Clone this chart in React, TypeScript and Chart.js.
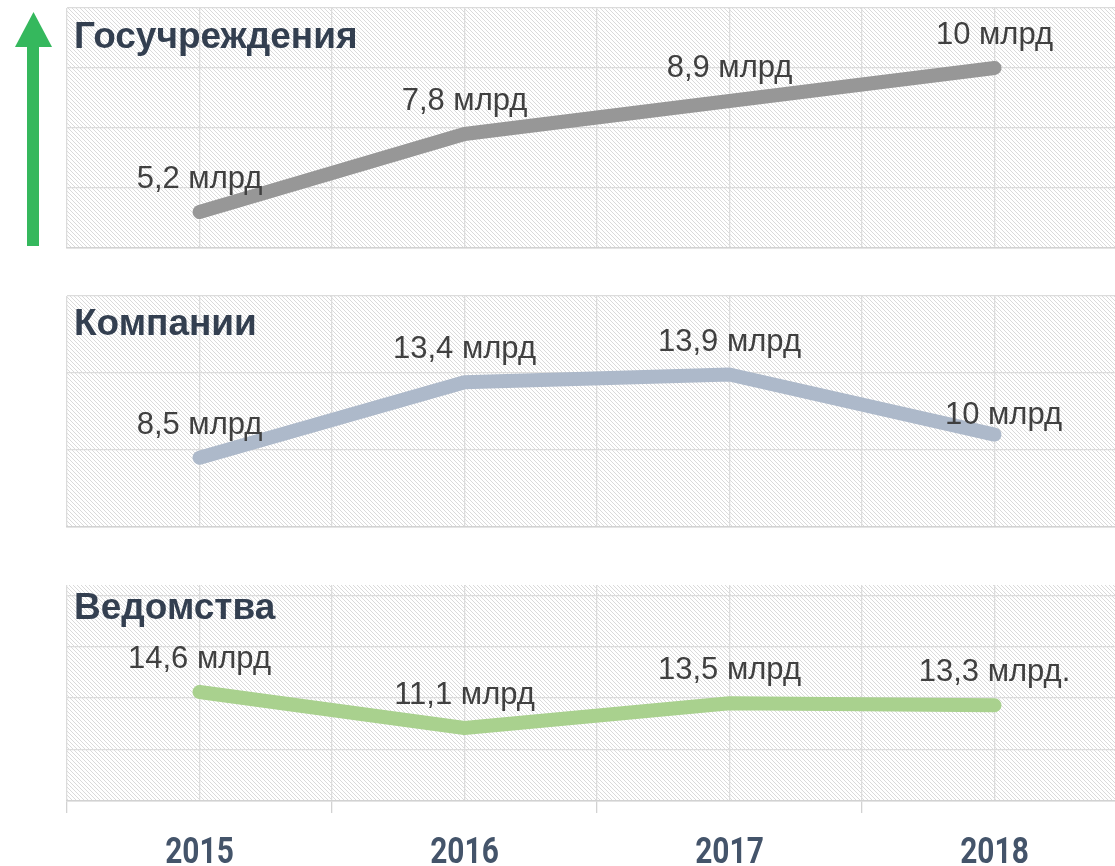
import React, { useEffect, useRef } from 'react';
import { Chart, registerables } from 'chart.js';

Chart.register(...registerables);

// ---- data ----
const years = ['2015', '2016', '2017', '2018'];

const govTitle = 'Госучреждения';
const govValues = [5.2, 7.8, 8.9, 10];
const govLabels = ['5,2 млрд', '7,8 млрд', '8,9 млрд', '10 млрд'];
const govTicks = [4, 6, 8, 10, 12];

const compTitle = 'Компании';
const compValues = [8.5, 13.4, 13.9, 10];
const compLabels = ['8,5 млрд', '13,4 млрд', '13,9 млрд', '10 млрд'];
const compTicks = [4, 9, 14, 19];

const agencyTitle = 'Ведомства';
const agencyValues = [14.6, 11.1, 13.5, 13.3];
const agencyLabels = ['14,6 млрд', '11,1 млрд', '13,5 млрд', '13,3 млрд.'];
const agencyTicks = [4, 9, 14, 19, 24];

const xGridTicks = [-0.5, 0, 0.5, 1, 1.5, 2, 2.5, 3, 3.5];

// ---- styles ----
const TITLE_COLOR = '#333f50';
const YEAR_COLOR = '#44546a';
const LABEL_COLOR = '#404040';
const GRID_COLOR = '#dcdcdc';
const BORDER_COLOR = '#d2d2d2';
const HATCH_COLOR = '#dadada';
const ARROW_COLOR = '#35b85d';
const CANVAS_W = 1140;

type PanelCfg = {
  title: string;
  values: number[];
  labels: string[];
  ticks: number[];
  color: string;
  yMin: number;
  yMax: number;
  top: number;
  height: number;
  padTop: number;
  padBottom: number;
  titleDy: number;
  showYears: boolean;
  arrow: boolean;
  labelShift: number[][];
};

const panels: PanelCfg[] = [
  {
    title: govTitle, values: govValues, labels: govLabels, ticks: govTicks, color: '#979797',
    yMin: 4, yMax: 12,
    top: 0, height: 260, padTop: 8, padBottom: 12, titleDy: 40,
    showYears: false, arrow: true,
    labelShift: [[0, 0], [0, 0], [0, 0], [0, 0]],
  },
  {
    title: compTitle, values: compValues, labels: compLabels, ticks: compTicks, color: '#adb9ca',
    yMin: 4, yMax: 19,
    top: 270, height: 270, padTop: 26, padBottom: 13, titleDy: 39,
    showYears: false, arrow: false,
    labelShift: [[0, 0], [0, 0], [0, 0], [9, 13]],
  },
  {
    title: agencyTitle, values: agencyValues, labels: agencyLabels, ticks: agencyTicks, color: '#a9d18e',
    yMin: 4, yMax: 25,
    top: 560, height: 306, padTop: 25, padBottom: 0, titleDy: 34,
    showYears: true, arrow: false,
    labelShift: [[0, 0], [0, 0], [0, 0], [0, 0]],
  },
];

function makeHatch(): CanvasPattern | string {
  const c = document.createElement('canvas');
  c.width = 4;
  c.height = 4;
  const g = c.getContext('2d');
  if (!g) return '#f0f0f0';
  g.fillStyle = '#ffffff';
  g.fillRect(0, 0, 4, 4);
  g.fillStyle = HATCH_COLOR;
  for (let i = 0; i < 4; i++) g.fillRect(i, i, 1, 1);
  const p = g.createPattern(c, 'repeat');
  return p || '#f0f0f0';
}

function Panel({ cfg }: { cfg: PanelCfg }) {
  const ref = useRef<HTMLCanvasElement>(null);
  useEffect(() => {
    const canvas = ref.current;
    if (!canvas) return;
    const hatch = makeHatch();

    const decor = {
      id: 'decor',
      beforeDraw(chart: any) {
        const { ctx, chartArea } = chart;
        ctx.save();
        ctx.fillStyle = '#ffffff';
        ctx.fillRect(0, 0, chart.width, chart.height);
        ctx.fillStyle = hatch;
        ctx.fillRect(chartArea.left, chartArea.top, chartArea.right - chartArea.left, chartArea.bottom - chartArea.top);
        ctx.restore();
      },
      afterDatasetsDraw(chart: any) {
        const { ctx, chartArea } = chart;
        ctx.save();
        // title
        ctx.fillStyle = TITLE_COLOR;
        ctx.font = 'bold 37px "Liberation Sans", Arial, sans-serif';
        ctx.textAlign = 'left';
        ctx.textBaseline = 'alphabetic';
        ctx.fillText(cfg.title, chartArea.left + 7, chartArea.top + cfg.titleDy);
        // value labels
        const meta = chart.getDatasetMeta(0);
        ctx.fillStyle = LABEL_COLOR;
        ctx.font = '31px "Liberation Sans", Arial, sans-serif';
        ctx.textAlign = 'center';
        meta.data.forEach((pt: any, i: number) => {
          const sh = cfg.labelShift[i] || [0, 0];
          ctx.fillText(cfg.labels[i], pt.x + sh[0], pt.y - 24 + sh[1]);
        });
        // year labels (condensed look) positioned by the x scale
        if (cfg.showYears) {
          const xs = chart.scales.x;
          ctx.fillStyle = YEAR_COLOR;
          ctx.font = 'bold 36px Roboto, "Liberation Sans", sans-serif';
          ctx.textAlign = 'center';
          years.forEach((y, i) => {
            ctx.save();
            ctx.translate(xs.getPixelForValue(i), chartArea.bottom + 62);
            ctx.scale(0.83, 1);
            ctx.fillText(y, 0, 0);
            ctx.restore();
          });
        }
        // arrow
        if (cfg.arrow) {
          ctx.fillStyle = ARROW_COLOR;
          ctx.fillRect(27, 46, 12, 200);
          ctx.beginPath();
          ctx.moveTo(15, 47);
          ctx.lineTo(33.5, 12);
          ctx.lineTo(52, 47);
          ctx.closePath();
          ctx.fill();
        }
        ctx.restore();
      },
    };

    const chart = new Chart(canvas, {
      type: 'line',
      data: {
        datasets: [
          {
            data: cfg.values.map((v, i) => ({ x: i, y: v })),
            borderColor: cfg.color,
            backgroundColor: cfg.color,
            borderWidth: 14,
            borderCapStyle: 'round',
            borderJoinStyle: 'round',
            pointRadius: 0,
            pointHoverRadius: 0,
            tension: 0,
            fill: false,
            clip: false as any,
          },
        ],
      },
      options: {
        animation: false,
        responsive: false,
        maintainAspectRatio: false,
        events: [],
        layout: { padding: { left: 67, right: CANVAS_W - 1127, top: cfg.padTop, bottom: cfg.padBottom } },
        plugins: { legend: { display: false }, tooltip: { enabled: false }, title: { display: false } },
        scales: {
          x: {
            type: 'linear',
            min: -0.5,
            max: 3.5,
            afterBuildTicks: (s: any) => { s.ticks = xGridTicks.map((v) => ({ value: v })); },
            afterFit: (s: any) => { s.height = cfg.showYears ? 65 : 0; },
            ticks: { display: false },
            grid: {
              color: GRID_COLOR,
              lineWidth: 1.3,
              drawTicks: cfg.showYears,
              tickLength: 12,
              tickColor: (c: any) => (c.tick && Number.isInteger(c.tick.value) ? 'rgba(0,0,0,0)' : BORDER_COLOR),
            },
            border: { display: true, color: BORDER_COLOR, width: 1.6 },
          },
          y: {
            type: 'linear',
            min: cfg.yMin,
            max: cfg.yMax,
            afterBuildTicks: (s: any) => { s.ticks = cfg.ticks.map((v) => ({ value: v })); },
            afterFit: (s: any) => { s.width = 0; },
            ticks: { display: false },
            grid: { color: GRID_COLOR, lineWidth: 1.3, drawTicks: false },
            border: { display: false },
          },
        },
      } as any,
      plugins: [decor],
    });
    return () => chart.destroy();
  }, []);
  return (
    <canvas
      ref={ref}
      width={CANVAS_W}
      height={cfg.height}
      style={{ position: 'absolute', left: 0, top: cfg.top, width: CANVAS_W, height: cfg.height }}
    />
  );
}

export default function App() {
  return (
    <div style={{ position: 'fixed', left: 0, top: 0, width: 1115, height: 866, overflow: 'hidden', background: '#ffffff' }}>
      {panels.map((p) => (
        <Panel key={p.title} cfg={p} />
      ))}
    </div>
  );
}
